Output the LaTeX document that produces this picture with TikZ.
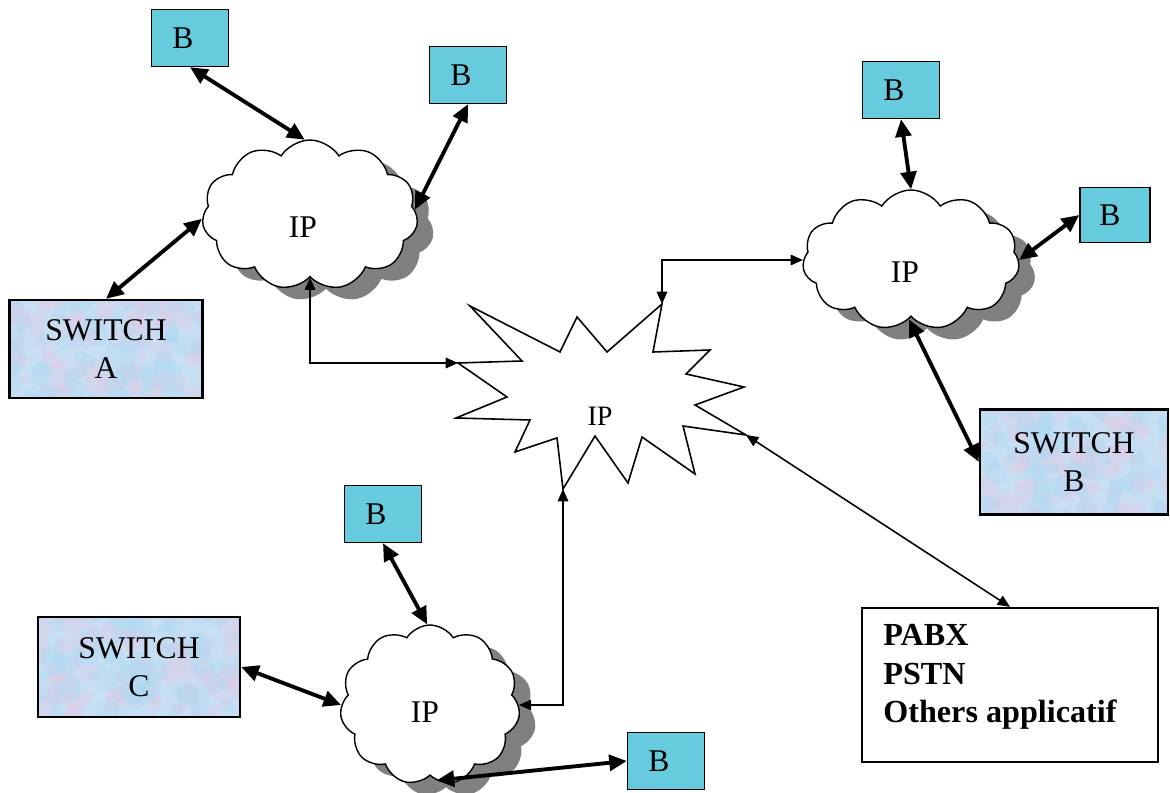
\documentclass[tikz,border=0pt]{standalone}
\usepackage{fontspec}
\setmainfont{Liberation Serif}
\usetikzlibrary{shapes.symbols,shadows,arrows.meta}
\definecolor{bcyan}{RGB}{102,204,221}
\definecolor{shadowgray}{RGB}{128,128,130}
\definecolor{swbase}{RGB}{200,222,242}
\definecolor{swpink}{RGB}{228,200,228}
\definecolor{swblue}{RGB}{170,218,242}
\tikzset{
  bbox/.style={draw, line width=0.8pt, fill=bcyan, minimum width=1.54cm, minimum height=1.14cm,
    inner sep=0pt, font=\fontsize{18}{21}\selectfont},
  swbox/.style={draw, line width=1.3pt, fill=swbase, inner sep=0pt, align=center,
    font=\fontsize{18}{21.5}\selectfont,
    path picture={
      \foreach \k in {1,...,90}{
        \pgfmathsetmacro{\px}{rnd*120}\pgfmathsetmacro{\py}{rnd*65}\pgfmathsetmacro{\pr}{2+rnd*5}
        \fill[swpink,opacity=0.3] ([shift={(\px pt,\py pt)}]path picture bounding box.south west) circle (\pr pt);}
      \foreach \k in {1,...,90}{
        \pgfmathsetmacro{\px}{rnd*120}\pgfmathsetmacro{\py}{rnd*65}\pgfmathsetmacro{\pr}{2+rnd*5}
        \fill[swblue,opacity=0.3] ([shift={(\px pt,\py pt)}]path picture bounding box.south west) circle (\pr pt);}
    }},
  ipcloud/.style={cloud, cloud puffs=11, cloud puff arc=115, draw, line width=0.8pt, fill=white,
    inner sep=0pt,
    drop shadow={shadow xshift=0.32cm, shadow yshift=-0.24cm, fill=shadowgray, opacity=1}},
  iptext/.style={inner sep=0pt, font=\fontsize{18}{21}\selectfont},
  thickarr/.style={line width=2.2pt, {Triangle[length=10pt,width=9pt]}-{Triangle[length=10pt,width=9pt]}},
  thinarr/.style={line width=0.9pt, {Triangle[length=7pt,width=6pt]}-{Triangle[length=7pt,width=6pt]}},
  pabxbox/.style={draw, line width=1.3pt, fill=white, minimum width=5.92cm, minimum height=3.08cm, inner sep=0pt},
}
\begin{document}
\begin{tikzpicture}[x=0.02cm,y=-0.02cm]
\pgfmathsetseed{11}
\useasboundingbox (0,0) rectangle (1170,793);
% clouds
\node[ipcloud, minimum width=4.32cm, minimum height=3.0cm] (c1) at (310,215) {};
\node[iptext] (c1t) at (303,227) {IP};
\node[ipcloud, minimum width=4.34cm, minimum height=2.8cm] (c2) at (911,260) {};
\node[iptext] (c2t) at (905,272) {IP};
\node[ipcloud, minimum width=3.6cm, minimum height=3.2cm] (c3) at (430,705) {};
\node[iptext] (c3t) at (425,712) {IP};
% starburst
\path (470,306) coordinate (s1) (522,361) coordinate (s2) (458,363) coordinate (sL)
  (507,397) coordinate (s4) (456,418) coordinate (s5) (530,420) coordinate (s6)
  (515,452) coordinate (s7) (557,438) coordinate (s8) (563,489) coordinate (sB)
  (595,436) coordinate (s10) (628,483) coordinate (s11) (642,437) coordinate (s12)
  (695,474) coordinate (s13) (683,426) coordinate (s14) (746,435) coordinate (sR)
  (695,405) coordinate (s16) (744,387) coordinate (s17) (686,374) coordinate (s18)
  (710,350) coordinate (s19) (653,352) coordinate (s20) (662,304) coordinate (sT)
  (607,352) coordinate (s22) (577,317) coordinate (s23) (560,352) coordinate (s24);
\draw[line width=0.9pt, line join=miter, fill=white] (s1) -- (s2) -- (sL) -- (s4) -- (s5) -- (s6) -- (s7) -- (s8)
  -- (sB) -- (s10) -- (s11) -- (s12) -- (s13) -- (s14) -- (sR) -- (s16) -- (s17) -- (s18)
  -- (s19) -- (s20) -- (sT) -- (s22) -- (s23) -- (s24) -- cycle;
\node[font=\fontsize{16}{19}\selectfont] (sip) at (600,416) {IP};
% B boxes
\node[bbox] (b1) at (190,38) {B\kern0.28cm};
\node[bbox] (b2) at (468,75) {B\kern0.28cm};
\node[bbox] (b3) at (901,90) {B\kern0.28cm};
\node[bbox, minimum width=1.4cm, minimum height=1.1cm] (b4) at (1115,215) {B\kern0.2cm};
\node[bbox] (b5) at (383,514) {B\kern0.28cm};
\node[bbox] (b6) at (666,761) {B\kern0.28cm};
% switches
\node[swbox, minimum width=3.86cm, minimum height=1.96cm] (swa) at (106,349) {SWITCH\\A};
\node[swbox, minimum width=3.76cm, minimum height=2.1cm] (swb) at (1074,462) {SWITCH\\B};
\node[swbox, minimum width=4.04cm, minimum height=2.0cm] (swc) at (139,667) {SWITCH\\C};
% PABX
\node[pabxbox] (pabx) at (1010,685) {};
\node[anchor=north west, align=left, font=\bfseries\fontsize{18.3}{22}\selectfont, inner sep=0pt] (pabxt) at (883,624) {PABX\\PSTN\\Others applicatif};
% connectors
\draw[thickarr] (b1.south) -- (c1.94);
\draw[thickarr] (b2.south) -- (c1.3);
\draw[thickarr] (swa.north) -- (c1.182);
\draw[thinarr] (c1.270) |- (sL);
\draw[thinarr] (sT) |- (c2.180);
\draw[thickarr] (b3.south) -- (c2.90);
\draw[thickarr] (b4.west) -- (c2.0);
\draw[thickarr] (swb.west) -- (c2.268);
\draw[thinarr] (sR) -- (pabx.north);
\draw[thinarr] (c3.0) -| (sB);
\draw[thickarr] (b5.south) -- (c3.92);
\draw[thickarr] (swc.east) -- (c3.180);
\draw[thickarr] (b6.west) -- (c3.275);
\end{tikzpicture}
\end{document}
